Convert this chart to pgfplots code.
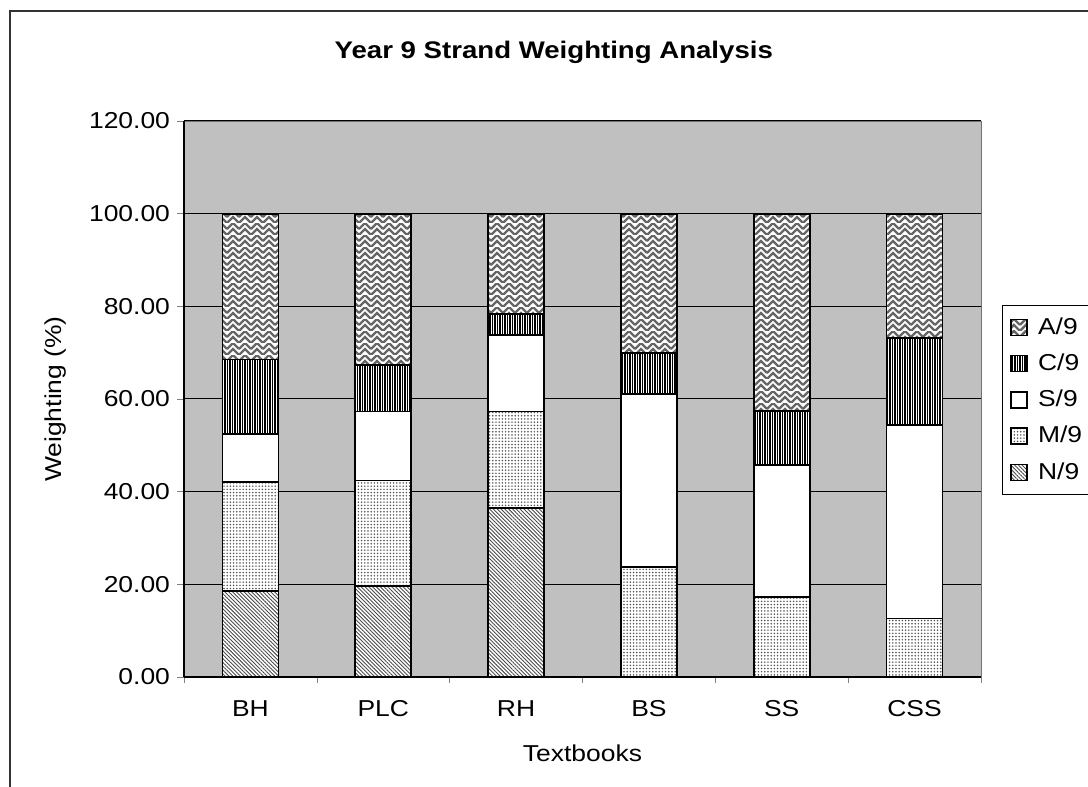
\documentclass[border=0pt]{standalone}
\usepackage{fontspec}
\setmainfont{Liberation Sans}[FakeStretch=1.15]
\usepackage{pgfplots}
\pgfplotsset{compat=1.18}
\usetikzlibrary{patterns,patterns.meta}

\definecolor{plotbg}{RGB}{192,192,192}

% weave-like zigzag used for A/9
\tikzdeclarepattern{
  name=weave,
  type=uncolored,
  bounding box={(0pt,0pt) and (6pt,6pt)},
  tile size={(6pt,6pt)},
  code={
    \draw[line width=1.2pt] (0pt,0pt) -- (3pt,3pt) -- (6pt,0pt);
    \draw[line width=1.2pt] (0pt,3pt) -- (3pt,6pt) -- (6pt,3pt);
  }
}

\begin{document}
\begin{tikzpicture}
\begin{axis}[
    ybar stacked,
    bar width=28pt,
    scale only axis,
    width=398.5pt,
    height=278pt,
    xmin=-0.5, xmax=5.5,
    ymin=0, ymax=120,
    xtick={0,...,5},
    xticklabels={BH,PLC,RH,BS,SS,CSS},
    minor xtick={-0.5,0.5,...,5.5},
    major x tick style={draw=none},
    ytick={0,20,...,120},
    tick align=outside,
    major tick length=3.5pt,
    minor tick length=3pt,
    axis x line*=bottom,
    axis y line*=left,
    axis line style={-, black, line width=0.6pt},
    axis background/.style={fill=plotbg, draw=black!55},
    ymajorgrids,
    grid style={black, line width=0.5pt},
    font=\fontsize{11.5}{13.5}\selectfont,
    /pgf/number format/.cd, fixed, fixed zerofill, precision=2, assume math mode=true,
    /pgfplots/.cd,
    xticklabel style={anchor=base, yshift=-16.5pt},
    title={\bfseries Year 9 Strand Weighting Analysis},
    title style={at={(0.464,1.101)}, anchor=center, font=\fontsize{12}{14}\selectfont},
    xlabel={Textbooks},
    xlabel style={at={(0.5,-0.137)}, anchor=center},
    ylabel={Weighting (\%)},
    ylabel style={at={(-0.161,0.5)}, anchor=center},
    every axis plot/.append style={draw=black, line width=0.9pt},
    legend image code/.code={\draw[#1, line width=0.7pt] (0pt,-4pt) rectangle (8pt,4pt); \path (11pt,0pt);},
    reverse legend,
    legend cell align=left,
    legend style={at={(1.0263,0.669)}, anchor=north west, draw=black,
        fill=white, line width=0.5pt, row sep=4.3pt, inner ysep=4pt,
        inner xsep=4pt, nodes={text width=40pt},
        font=\fontsize{11.5}{13.5}\selectfont},
]

% N/9
\addplot[fill=white, postaction={pattern={Lines[angle=-45,distance=1.35pt,line width=0.45pt]}, pattern color=black!70}]
  coordinates {(0,18.6) (1,19.7) (2,36.5) (3,0) (4,0) (5,0)};
% M/9
\addplot[fill=white, postaction={pattern={Dots[distance=1.6pt,radius=0.42pt]}, pattern color=black!70}]
  coordinates {(0,23.4) (1,22.7) (2,20.8) (3,23.8) (4,17.3) (5,12.6)};
% S/9
\addplot[fill=white]
  coordinates {(0,10.5) (1,14.9) (2,16.5) (3,37.2) (4,28.4) (5,41.7)};
% C/9
\addplot[fill=white, postaction={pattern={Lines[angle=90,distance=1.25pt,line width=0.55pt]}, pattern color=black}]
  coordinates {(0,16.0) (1,10.1) (2,4.5) (3,9.0) (4,11.7) (5,18.8)};
% A/9
\addplot[fill=white, postaction={pattern=weave, pattern color=black!60}]
  coordinates {(0,31.5) (1,32.6) (2,21.7) (3,30.0) (4,42.6) (5,26.9)};

\legend{N/9,M/9,S/9,C/9,A/9}

\coordinate (bbl) at (rel axis cs:-0.2309,-0.1978);
\coordinate (btr) at (rel axis cs:1.1343,1.2176);
\coordinate (fbl) at (rel axis cs:-0.2183,-0.30);
\coordinate (ftr) at (rel axis cs:1.20,1.1978);
\end{axis}
\draw[black!80, line width=1pt] (fbl) rectangle (ftr);
\pgfresetboundingbox
\path[use as bounding box] (bbl) rectangle (btr);
\end{tikzpicture}
\end{document}
